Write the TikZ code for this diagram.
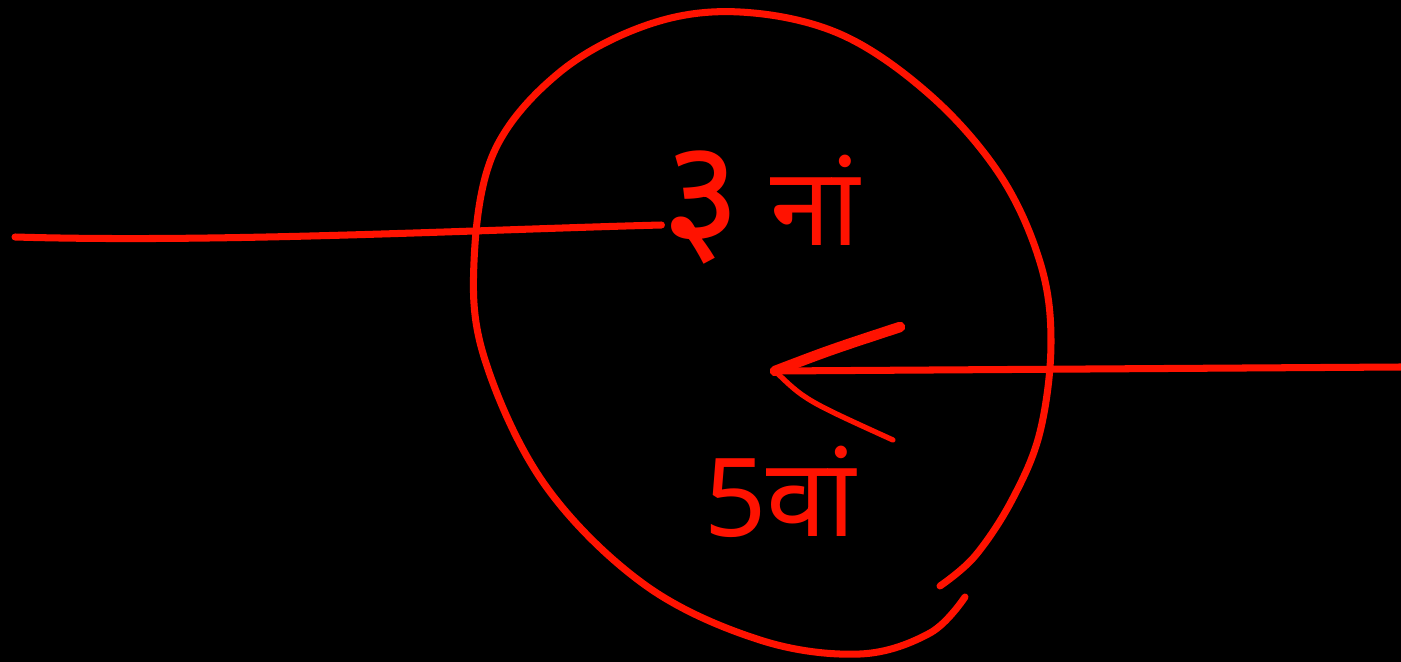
\documentclass[tikz,border=0pt]{standalone}
\usepackage{fontspec}
\usepackage{tikz}
\usetikzlibrary{positioning, calc}
\newfontfamily\devfont[Script=Devanagari]{Noto Sans}
\definecolor{penred}{RGB}{255,18,0}

\begin{document}
\begin{tikzpicture}[x=0.02cm, y=-0.02cm,
    pen/.style={draw=penred, line width=4pt, line cap=round, line join=round},
    hand/.style={text=penred, inner sep=0pt, font=\devfont\fontsize{62}{62}\selectfont}]

    % --- Board ---
    \useasboundingbox[fill=black] (0,0) rectangle (1401,662);

    % --- Labels ---
    \node[hand, font=\devfont\fontsize{88}{88}\selectfont] (three) at (702,208) {३};
    \node[hand] (naam) at (815,200) {नां};
    \node[hand] (five) at (780,492) {5वां};

    % --- Loop ---
    \draw[pen] plot[smooth, tension=0.6] coordinates {
        (965,597) (930,633) (860,654) (760,640) (645,585) (545,485)
        (485,360) (474,262) (494,152) (560,72) (650,24) (740,12)
        (840,34) (930,95) (1000,175) (1040,262) (1051,342) (1040,432)
        (1012,500) (975,556) (940,586)};

    % --- Lead in from the left ---
    \coordinate (leftend) at (15,237);
    \draw[pen] (leftend) .. controls (220,243) and (470,230) .. ($(three.west)+(0,17)$);

    % --- Arrow from the right ---
    \coordinate (rightend) at (1401,367);
    \coordinate (tip) at (775,371);
    \draw[pen] (rightend) -- (tip);
    \draw[pen, line width=6pt] (900,327) .. controls (830,350) .. (tip);
    \draw[pen, line width=3pt] (tip) .. controls (805,400) .. (893,440);

\end{tikzpicture}
\end{document}
